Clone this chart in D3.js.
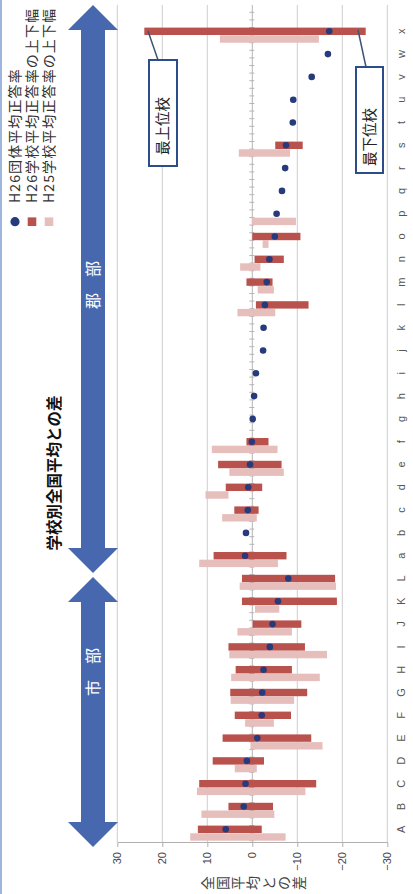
<!DOCTYPE html>
<html><head><meta charset="utf-8">
<script src="https://cdn.jsdelivr.net/npm/d3@7"></script>
<style>html,body{margin:0;padding:0;background:#fff;}svg{display:block;}</style>
</head><body>
<svg id="c" width="413" height="894"></svg>
<script>
const categories = ["A","B","C","D","E","F","G","H","I","J","K","L",
  "a","b","c","d","e","f","g","h","i","j","k","l","m","n","o","p","q","r","s","t","u","v","w","x"];
const h26Avg = [5.9,1.9,1.5,1.2,-1.1,-2.1,-2.2,-2.5,-3.9,-4.5,-5.7,-8.0,
  1.6,1.4,1.0,0.9,0.5,0.1,-0.1,-0.4,-0.8,-2.4,-2.5,-2.8,-3.2,-3.8,-5.0,-5.4,-6.6,-7.3,-7.5,-9.0,-9.1,-13.2,-16.8,-17.1];
const h26High = [12.1,5.3,11.8,8.8,6.6,3.9,4.9,3.7,5.3,-0.1,2.3,2.3,
  8.6,null,4.0,5.9,7.6,1.3,null,null,null,null,null,-0.8,1.3,-0.5,0.0,null,null,null,-5.1,null,null,null,null,24.0];
const h26Low = [-2.1,-4.6,-14.2,-2.6,-13.1,-8.6,-12.2,-8.8,-11.7,-10.9,-18.8,-18.4,
  -7.6,null,-1.4,-2.2,-6.5,-3.6,null,null,null,null,null,-12.5,-4.5,-7.0,-10.7,null,null,null,-11.2,null,null,null,null,-25.2];
const h25High = [13.8,11.3,12.3,3.9,0.4,1.6,4.8,4.7,5.1,3.3,-0.6,2.8,
  11.8,null,6.7,10.4,5.1,9.0,null,null,null,null,null,3.3,-1.2,2.7,-2.3,0.1,null,null,3.0,null,null,null,null,7.2];
const h25Low = [-7.4,-4.9,-11.8,-1.0,-15.6,-4.8,-9.3,-15.0,-16.6,-8.8,-6.0,-18.6,
  -5.7,null,-1.0,5.3,-7.0,-5.6,null,null,null,null,null,-5.1,-4.8,-1.8,-3.6,-9.7,null,null,-8.4,null,null,null,null,-14.8];
const valueTicks = [30,20,10,0,-10,-20,-30];
const legendLabels = ["H26団体平均正答率","H26学校平均正答率の上下幅","H25学校平均正答率の上下幅"];
const axisTitle = "全国平均との差";
const chartTitle = "学校別全国平均との差";
const groupLabels = ["郡　部","市　部"];
const calloutLabels = ["最上位校","最下位校"];

const C_DARK = "#b9524d", C_LIGHT = "#e6bebc", C_DOT = "#263a7c", C_BLUE = "#4768ae";
const JP = "'Noto Sans CJK JP','Noto Sans',sans-serif";
const LAT = "'Liberation Sans',Arial,sans-serif";

const svg = d3.select("#c");
svg.append("rect").attr("width",413).attr("height",894).attr("fill","#fff");
svg.append("line").attr("x1",1).attr("x2",1).attr("y1",0).attr("y2",894)
  .attr("stroke","#9fb6dc").attr("stroke-width",2);

// chart drawn in its own (unrotated) frame, then rotated 90deg CCW
const g = svg.append("g").attr("transform","translate(0,894) rotate(-90)");
const plotX0 = 51, plotX1 = 889;
const x = d3.scaleBand().domain(categories).range([53.3, 874.1]);
const sub = d3.scaleBand().domain(["H25","H26","gap"]).range([0, x.bandwidth()]).paddingInner(0.04);
const y = d3.scaleLinear().domain([30,-30]).range([117.3, 387.3]);

// gridlines
g.append("g").selectAll("line").data(valueTicks).join("line")
  .attr("x1",plotX0).attr("x2",plotX1).attr("y1",d=>y(d)).attr("y2",d=>y(d))
  .attr("stroke",d=>d===0?"#b5b5b5":"#cdcdcd").attr("stroke-width",1);

// minor ticks on zero line
g.append("g").selectAll("line").data(d3.range(x.range()[0], plotX1, x.step()/3)).join("line")
  .attr("x1",d=>d).attr("x2",d=>d).attr("y1",y(0)-3).attr("y2",y(0)+2)
  .attr("stroke","#b5b5b5").attr("stroke-width",1);

// value axis
const ya = g.append("g").attr("transform",`translate(${plotX0},0)`)
  .call(d3.axisLeft(y).tickValues(valueTicks).tickSize(4).tickSizeOuter(0).tickPadding(5).tickFormat(d3.format("d")));
ya.select(".domain").attr("stroke","#b0b0b0");
ya.selectAll(".tick line").attr("stroke","#b0b0b0");
ya.selectAll("text").attr("font-family",LAT).attr("font-size",11).attr("fill","#444");

// category axis
const xa = g.append("g").attr("transform",`translate(0,${y(-30)})`)
  .call(d3.axisBottom(x).tickSize(0).tickPadding(10));
xa.select(".domain").remove();
xa.selectAll("text").attr("font-family",LAT).attr("font-size",11).attr("fill","#555");

const rows = categories.map((c,i)=>({c, avg:h26Avg[i], h26:[h26High[i],h26Low[i]], h25:[h25High[i],h25Low[i]]}));

// H25 bars
g.append("g").selectAll("rect").data(rows.filter(r=>r.h25[0]!==null)).join("rect")
  .attr("x",r=>x(r.c)+sub("H25")).attr("width",sub.bandwidth())
  .attr("y",r=>y(r.h25[0])).attr("height",r=>y(r.h25[1])-y(r.h25[0]))
  .attr("fill",C_LIGHT);
// H26 bars
g.append("g").selectAll("rect").data(rows.filter(r=>r.h26[0]!==null)).join("rect")
  .attr("x",r=>x(r.c)+sub("H26")).attr("width",sub.bandwidth())
  .attr("y",r=>y(r.h26[0])).attr("height",r=>y(r.h26[1])-y(r.h26[0]))
  .attr("fill",C_DARK);
// H26 average dots
g.append("g").selectAll("circle").data(rows).join("circle")
  .attr("cx",r=>x(r.c)+sub("H26")+sub.bandwidth()/2).attr("cy",r=>y(r.avg)).attr("r",3.3)
  .attr("fill",C_DOT);

// axis title (vertical, upright chars)
g.append("g").selectAll("text").data(Array.from(axisTitle)).join("text")
  .attr("x",11).attr("y",(d,i)=>200+15.3*(i+0.5)).attr("text-anchor","middle").attr("dy","0.35em")
  .attr("font-family",JP).attr("font-size",14).attr("fill","#444").text(d=>d);

// legend
const lg = g.append("g");
const legendY = [15, 32, 49];
lg.append("circle").attr("cx",672.3).attr("cy",legendY[0]).attr("r",4.6).attr("fill",C_DOT);
lg.append("rect").attr("x",668).attr("y",legendY[1]-4.3).attr("width",8.6).attr("height",8.6).attr("fill",C_DARK);
lg.append("rect").attr("x",668).attr("y",legendY[2]-4.3).attr("width",8.6).attr("height",8.6).attr("fill",C_LIGHT);
lg.selectAll("text").data(legendLabels).join("text")
  .attr("x",691).attr("y",(d,i)=>legendY[i]).attr("dy","0.36em")
  .attr("font-family",JP).attr("font-size",14).attr("letter-spacing",1.1).attr("fill","#333").text(d=>d);

// ---- annotations in page frame ----
const ann = svg.append("g");
function arrow(yTop, yBot){
  const cx = 93, hw = 25, sw = 12, hl = 25;
  const p = [[cx,yTop],[cx+hw,yTop+hl],[cx+sw,yTop+hl],[cx+sw,yBot-hl],[cx+hw,yBot-hl],[cx,yBot],
             [cx-hw,yBot-hl],[cx-sw,yBot-hl],[cx-sw,yTop+hl],[cx-hw,yTop+hl]];
  ann.append("polygon").attr("points",p.map(d=>d.join(",")).join(" ")).attr("fill",C_BLUE);
}
arrow(5,573);
arrow(577,847);
ann.selectAll(".gl").data(groupLabels).join("text").attr("class","gl")
  .attr("transform",(d,i)=>`translate(93,${i===0?285:672}) rotate(-90)`)
  .attr("text-anchor","middle").attr("dy","0.36em")
  .attr("font-family",JP).attr("font-size",16).attr("fill","#fff").text(d=>d);

ann.append("text").attr("transform","translate(54,473) rotate(-90)")
  .attr("text-anchor","middle").attr("dy","0.36em")
  .attr("font-family",JP).attr("font-weight","bold").attr("font-size",15.5).attr("fill","#111").text(chartTitle);

// callouts
const callouts = [
  {label:calloutLabels[0], bx:149, by:60, bw:28, bh:106, tx:163, ty:126, l:[[158,60],[148,31]]},
  {label:calloutLabels[1], bx:356, by:67, bw:27, bh:106, tx:369.5, ty:137, l:[[366,67],[358,30]]}
];
callouts.forEach(c=>{
  ann.append("line").attr("x1",c.l[0][0]).attr("y1",c.l[0][1]).attr("x2",c.l[1][0]).attr("y2",c.l[1][1])
    .attr("stroke","#3f5473").attr("stroke-width",1.5);
  ann.append("rect").attr("x",c.bx).attr("y",c.by).attr("width",c.bw).attr("height",c.bh)
    .attr("fill","#fff").attr("stroke","#2d4c8a").attr("stroke-width",2);
  ann.append("text").attr("transform",`translate(${c.tx},${c.ty}) rotate(-90)`)
    .attr("text-anchor","middle").attr("dy","0.36em")
    .attr("font-family",JP).attr("font-size",14.5).attr("fill","#222").text(c.label);
});
</script>
</body></html>
